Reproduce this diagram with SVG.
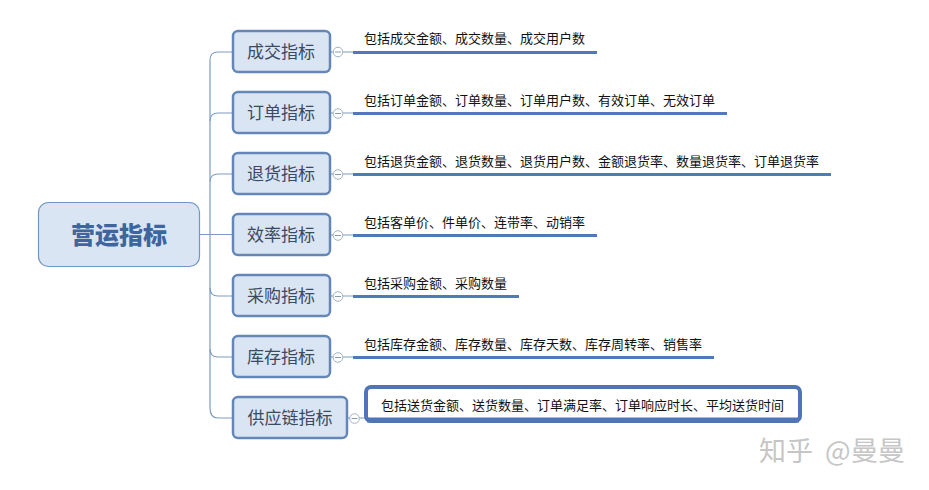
<svg xmlns="http://www.w3.org/2000/svg" width="929" height="490" viewBox="0 0 929 490">
<style>
text{font-family:"Noto Sans CJK SC","Liberation Sans",sans-serif}
.n rect{fill:#dae5f3;stroke:#6487b8;stroke-width:2.5}
.n text{font-size:17px;fill:#3a4a63;text-anchor:middle}
.d{font-size:13px;fill:#111}
.c{fill:none;stroke:#7f9cc0;stroke-width:1.2}
.u{fill:none;stroke:#5079bb;stroke-width:3}
.k{fill:#fff;stroke:#a3b2c2;stroke-width:1}
.m{fill:none;stroke:#8b9bab;stroke-width:1}
.l{fill:none;stroke:#7f9cc0;stroke-width:1.2}
</style>
<rect width="929" height="490" fill="#fff"/>
<g id="connectors">
<path class="c" d="M200 234.500H233"/>
<path class="c" d="M233 52H218Q210 52 210 60V408Q210 418 218 418H233"/>
<path class="c" d="M233 113H218Q210 113 210 121"/>
<path class="c" d="M233 174H218Q210 174 210 182"/>
<path class="c" d="M233 296H218Q210 296 210 288"/>
<path class="c" d="M233 357H218Q210 357 210 349"/>
<path class="l" d="M331 52H353M331 113H353M331 174H353M331 235H353M331 296H353M331 357H353M348 418H366"/>
<path class="u" d="M353 52.500H597"/>
<path class="u" d="M353 113.500H727"/>
<path class="u" d="M353 174.500H831"/>
<path class="u" d="M353 235.500H597"/>
<path class="u" d="M353 296.500H519"/>
<path class="u" d="M353 357.500H714"/>
<g id="toggles">
<circle class="k" cx="338" cy="52" r="4.800"/><path class="m" d="M335 52H341"/>
<circle class="k" cx="338" cy="113.500" r="4.800"/><path class="m" d="M335 113.500H341"/>
<circle class="k" cx="338" cy="174.500" r="4.800"/><path class="m" d="M335 174.500H341"/>
<circle class="k" cx="338" cy="235.500" r="4.800"/><path class="m" d="M335 235.500H341"/>
<circle class="k" cx="338" cy="296.500" r="4.800"/><path class="m" d="M335 296.500H341"/>
<circle class="k" cx="338" cy="357.500" r="4.800"/><path class="m" d="M335 357.500H341"/>
<circle class="k" cx="354.500" cy="418.500" r="4.800"/><path class="m" d="M351.500 418.500H357.500"/>
</g>
</g>
<g id="root">
<rect x="38.500" y="202.500" width="161" height="64" rx="10" fill="#dae5f3" stroke="#7396bf" stroke-width="1.200"/>
<text x="119" y="243.500" font-size="24" font-weight="900" fill="#3f659e" text-anchor="middle">营运指标</text>
</g>
<g id="n1" class="n"><rect x="233" y="31" width="97" height="41" rx="5"/><text x="281" y="58">成交指标</text></g>
<g id="n2" class="n"><rect x="233" y="92" width="97" height="41" rx="5"/><text x="281" y="119">订单指标</text></g>
<g id="n3" class="n"><rect x="233" y="153" width="97" height="41" rx="5"/><text x="281" y="180">退货指标</text></g>
<g id="n4" class="n"><rect x="233" y="214" width="97" height="41" rx="5"/><text x="281" y="241">效率指标</text></g>
<g id="n5" class="n"><rect x="233" y="275" width="97" height="41" rx="5"/><text x="281" y="302">采购指标</text></g>
<g id="n6" class="n"><rect x="233" y="336" width="97" height="41" rx="5"/><text x="281" y="363">库存指标</text></g>
<g id="n7" class="n"><rect x="233" y="397" width="114" height="41" rx="5"/><text x="290" y="424">供应链指标</text></g>
<g id="d1"><text class="d" x="364" y="43">包括成交金额、成交数量、成交用户数</text></g>
<g id="d2"><text class="d" x="364" y="105">包括订单金额、订单数量、订单用户数、有效订单、无效订单</text></g>
<g id="d3"><text class="d" x="364" y="166">包括退货金额、退货数量、退货用户数、金额退货率、数量退货率、订单退货率</text></g>
<g id="d4"><text class="d" x="364" y="227">包括客单价、件单价、连带率、动销率</text></g>
<g id="d5"><text class="d" x="364" y="288">包括采购金额、采购数量</text></g>
<g id="d6"><text class="d" x="364" y="349">包括库存金额、库存数量、库存天数、库存周转率、销售率</text></g>
<g id="d7"><rect x="366" y="387" width="434" height="34" rx="5" fill="#fff" stroke="#4f75b8" stroke-width="4"/><path d="M367 420H799" fill="none" stroke="#4f75b8" stroke-width="5"/><text class="d" x="381" y="410">包括送货金额、送货数量、订单满足率、订单响应时长、平均送货时间</text></g>
<text id="watermark" y="461" font-size="27" fill="#c6c6c6"><tspan x="759">知乎</tspan><tspan x="825">@</tspan><tspan x="851">曼曼</tspan></text>
</svg>
